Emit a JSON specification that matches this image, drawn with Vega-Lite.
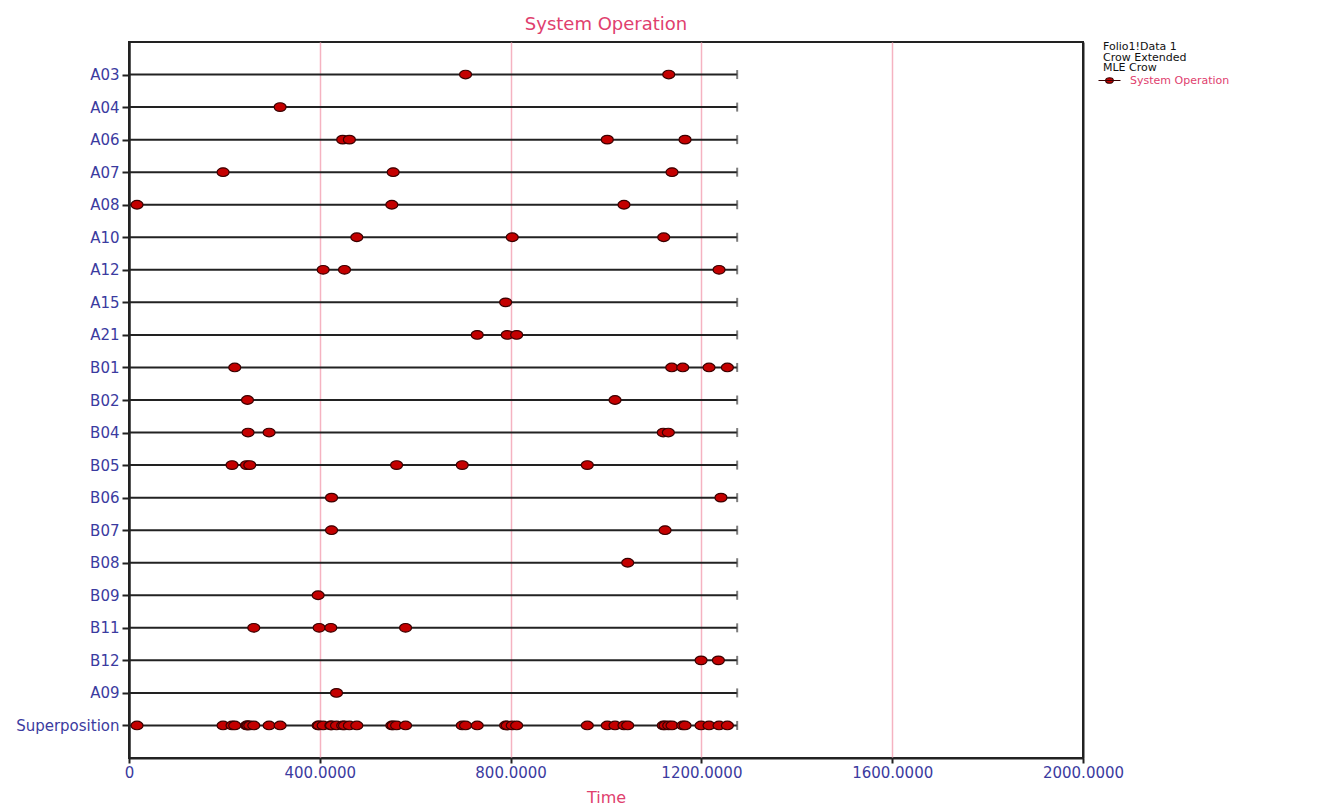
{
  "$schema": "https://vega.github.io/schema/vega-lite/v6.json",
  "width": 954,
  "height": 716,
  "autosize": {"type": "none"},
  "padding": {"left": 129, "top": 42, "right": 246, "bottom": 50},
  "background": "white",
  "title": {"text": "System Operation", "color": "#e0406e", "fontSize": 18, "font": "DejaVu Sans", "fontWeight": "normal", "anchor": "middle", "offset": 7},
  "config": {"view": {"stroke": "#222", "strokeWidth": 2}, "font": "DejaVu Sans"},
  "datasets": {
    "rows": [
      {"task": "A03", "start": 0, "end": 1275},
      {"task": "A04", "start": 0, "end": 1275},
      {"task": "A06", "start": 0, "end": 1275},
      {"task": "A07", "start": 0, "end": 1275},
      {"task": "A08", "start": 0, "end": 1275},
      {"task": "A10", "start": 0, "end": 1275},
      {"task": "A12", "start": 0, "end": 1275},
      {"task": "A15", "start": 0, "end": 1275},
      {"task": "A21", "start": 0, "end": 1275},
      {"task": "B01", "start": 0, "end": 1275},
      {"task": "B02", "start": 0, "end": 1275},
      {"task": "B04", "start": 0, "end": 1275},
      {"task": "B05", "start": 0, "end": 1275},
      {"task": "B06", "start": 0, "end": 1275},
      {"task": "B07", "start": 0, "end": 1275},
      {"task": "B08", "start": 0, "end": 1275},
      {"task": "B09", "start": 0, "end": 1275},
      {"task": "B11", "start": 0, "end": 1275},
      {"task": "B12", "start": 0, "end": 1275},
      {"task": "A09", "start": 0, "end": 1275},
      {"task": "Superposition", "start": 0, "end": 1275}
    ],
    "events": [
      {"task": "A03", "time": 705.6, "series": "System Operation"},
      {"task": "A03", "time": 1131.5, "series": "System Operation"},
      {"task": "A04", "time": 316.8, "series": "System Operation"},
      {"task": "A06", "time": 448, "series": "System Operation"},
      {"task": "A06", "time": 462, "series": "System Operation"},
      {"task": "A06", "time": 1002.7, "series": "System Operation"},
      {"task": "A06", "time": 1165.7, "series": "System Operation"},
      {"task": "A07", "time": 197.2, "series": "System Operation"},
      {"task": "A07", "time": 553.8, "series": "System Operation"},
      {"task": "A07", "time": 1138.4, "series": "System Operation"},
      {"task": "A08", "time": 16.8, "series": "System Operation"},
      {"task": "A08", "time": 551, "series": "System Operation"},
      {"task": "A08", "time": 1037.7, "series": "System Operation"},
      {"task": "A10", "time": 477.6, "series": "System Operation"},
      {"task": "A10", "time": 803.4, "series": "System Operation"},
      {"task": "A10", "time": 1121, "series": "System Operation"},
      {"task": "A12", "time": 407, "series": "System Operation"},
      {"task": "A12", "time": 451.8, "series": "System Operation"},
      {"task": "A12", "time": 1237, "series": "System Operation"},
      {"task": "A15", "time": 789.6, "series": "System Operation"},
      {"task": "A21", "time": 730, "series": "System Operation"},
      {"task": "A21", "time": 793, "series": "System Operation"},
      {"task": "A21", "time": 812.7, "series": "System Operation"},
      {"task": "B01", "time": 221.7, "series": "System Operation"},
      {"task": "B01", "time": 1137.8, "series": "System Operation"},
      {"task": "B01", "time": 1160.9, "series": "System Operation"},
      {"task": "B01", "time": 1216, "series": "System Operation"},
      {"task": "B01", "time": 1254.5, "series": "System Operation"},
      {"task": "B02", "time": 248.4, "series": "System Operation"},
      {"task": "B02", "time": 1018.9, "series": "System Operation"},
      {"task": "B04", "time": 249.6, "series": "System Operation"},
      {"task": "B04", "time": 293.7, "series": "System Operation"},
      {"task": "B04", "time": 1120, "series": "System Operation"},
      {"task": "B04", "time": 1130.7, "series": "System Operation"},
      {"task": "B05", "time": 216, "series": "System Operation"},
      {"task": "B05", "time": 246.3, "series": "System Operation"},
      {"task": "B05", "time": 253.2, "series": "System Operation"},
      {"task": "B05", "time": 561, "series": "System Operation"},
      {"task": "B05", "time": 698.6, "series": "System Operation"},
      {"task": "B05", "time": 960.8, "series": "System Operation"},
      {"task": "B06", "time": 424.6, "series": "System Operation"},
      {"task": "B06", "time": 1241, "series": "System Operation"},
      {"task": "B07", "time": 424.6, "series": "System Operation"},
      {"task": "B07", "time": 1123.8, "series": "System Operation"},
      {"task": "B08", "time": 1045.5, "series": "System Operation"},
      {"task": "B09", "time": 396.5, "series": "System Operation"},
      {"task": "B11", "time": 261.6, "series": "System Operation"},
      {"task": "B11", "time": 398.6, "series": "System Operation"},
      {"task": "B11", "time": 423.1, "series": "System Operation"},
      {"task": "B11", "time": 579.8, "series": "System Operation"},
      {"task": "B12", "time": 1199.3, "series": "System Operation"},
      {"task": "B12", "time": 1235.6, "series": "System Operation"},
      {"task": "A09", "time": 435, "series": "System Operation"},
      {"task": "Superposition", "time": 16.8, "series": "System Operation"},
      {"task": "Superposition", "time": 197.2, "series": "System Operation"},
      {"task": "Superposition", "time": 216, "series": "System Operation"},
      {"task": "Superposition", "time": 221.7, "series": "System Operation"},
      {"task": "Superposition", "time": 246.3, "series": "System Operation"},
      {"task": "Superposition", "time": 248.4, "series": "System Operation"},
      {"task": "Superposition", "time": 249.6, "series": "System Operation"},
      {"task": "Superposition", "time": 253.2, "series": "System Operation"},
      {"task": "Superposition", "time": 261.6, "series": "System Operation"},
      {"task": "Superposition", "time": 293.7, "series": "System Operation"},
      {"task": "Superposition", "time": 316.8, "series": "System Operation"},
      {"task": "Superposition", "time": 396.5, "series": "System Operation"},
      {"task": "Superposition", "time": 398.6, "series": "System Operation"},
      {"task": "Superposition", "time": 407, "series": "System Operation"},
      {"task": "Superposition", "time": 423.1, "series": "System Operation"},
      {"task": "Superposition", "time": 424.6, "series": "System Operation"},
      {"task": "Superposition", "time": 435, "series": "System Operation"},
      {"task": "Superposition", "time": 448, "series": "System Operation"},
      {"task": "Superposition", "time": 451.8, "series": "System Operation"},
      {"task": "Superposition", "time": 462, "series": "System Operation"},
      {"task": "Superposition", "time": 477.6, "series": "System Operation"},
      {"task": "Superposition", "time": 551, "series": "System Operation"},
      {"task": "Superposition", "time": 553.8, "series": "System Operation"},
      {"task": "Superposition", "time": 561, "series": "System Operation"},
      {"task": "Superposition", "time": 579.8, "series": "System Operation"},
      {"task": "Superposition", "time": 698.6, "series": "System Operation"},
      {"task": "Superposition", "time": 705.6, "series": "System Operation"},
      {"task": "Superposition", "time": 730, "series": "System Operation"},
      {"task": "Superposition", "time": 789.6, "series": "System Operation"},
      {"task": "Superposition", "time": 793, "series": "System Operation"},
      {"task": "Superposition", "time": 803.4, "series": "System Operation"},
      {"task": "Superposition", "time": 812.7, "series": "System Operation"},
      {"task": "Superposition", "time": 960.8, "series": "System Operation"},
      {"task": "Superposition", "time": 1002.7, "series": "System Operation"},
      {"task": "Superposition", "time": 1018.9, "series": "System Operation"},
      {"task": "Superposition", "time": 1037.7, "series": "System Operation"},
      {"task": "Superposition", "time": 1045.5, "series": "System Operation"},
      {"task": "Superposition", "time": 1120, "series": "System Operation"},
      {"task": "Superposition", "time": 1123.8, "series": "System Operation"},
      {"task": "Superposition", "time": 1131.5, "series": "System Operation"},
      {"task": "Superposition", "time": 1138.4, "series": "System Operation"},
      {"task": "Superposition", "time": 1160.9, "series": "System Operation"},
      {"task": "Superposition", "time": 1165.7, "series": "System Operation"},
      {"task": "Superposition", "time": 1199.3, "series": "System Operation"},
      {"task": "Superposition", "time": 1216, "series": "System Operation"},
      {"task": "Superposition", "time": 1237, "series": "System Operation"},
      {"task": "Superposition", "time": 1254.5, "series": "System Operation"}
    ]
  },
  "layer": [
    {
      "data": {"name": "rows"},
      "mark": {"type": "rule", "color": "#222", "strokeWidth": 2},
      "encoding": {
        "y": {
          "field": "task", "type": "nominal",
          "scale": {"type": "point", "padding": 1, "domain": ["A03","A04","A06","A07","A08","A10","A12","A15","A21","B01","B02","B04","B05","B06","B07","B08","B09","B11","B12","A09","Superposition"]},
          "axis": {"title": null, "labelColor": "#3b3ba0", "labelFontSize": 15, "labelFont": "DejaVu Sans", "domainColor": "#222", "domainWidth": 2, "tickColor": "#222", "tickWidth": 2, "tickSize": 7, "labelPadding": 3, "grid": false}
        },
        "x": {
          "field": "start", "type": "quantitative",
          "scale": {"domain": [0, 2000], "nice": false, "zero": true},
          "axis": {"title": "Time", "titleColor": "#e0406e", "titleFontSize": 16, "titleFontWeight": "normal", "titleFont": "DejaVu Sans", "titlePadding": 9, "values": [0, 400, 800, 1200, 1600, 2000], "labelExpr": "datum.value == 0 ? '0' : format(datum.value, '.4f')", "labelColor": "#3b3ba0", "labelFontSize": 15, "labelFont": "DejaVu Sans", "labelPadding": 2, "domainColor": "#222", "domainWidth": 2, "tickColor": "#222", "tickWidth": 2, "tickSize": 5, "grid": true, "gridColor": {"condition": {"test": "datum.value == 0 || datum.value == 2000", "value": "#222"}, "value": "#f5b3c1"}, "gridWidth": {"condition": {"test": "datum.value == 0 || datum.value == 2000", "value": 2}, "value": 1.5}, "gridOpacity": 1, "labelFlush": false}
        },
        "x2": {"field": "end"}
      }
    },
    {
      "data": {"name": "rows"},
      "mark": {"type": "tick", "orient": "vertical", "color": "#444", "size": 9, "thickness": 2},
      "encoding": {
        "x": {"field": "end", "type": "quantitative"},
        "y": {"field": "task", "type": "nominal"}
      }
    },
    {
      "data": {"name": "events"},
      "mark": {"type": "point", "shape": "M -1 0 A 1 0.72 0 1 0 1 0 A 1 0.72 0 1 0 -1 0 Z", "size": 144, "filled": true, "stroke": "#3a0000", "strokeWidth": 1.2, "opacity": 1},
      "encoding": {
        "x": {"field": "time", "type": "quantitative"},
        "y": {"field": "task", "type": "nominal"},
        "color": {
          "field": "series", "type": "nominal",
          "scale": {"range": ["#c40000"]},
          "legend": {"orient": "none", "legendX": 974, "legendY": -1, "title": ["Folio1!Data 1", "Crow Extended", "MLE Crow"], "titleFont": "DejaVu Sans", "titleFontSize": 11, "titleFontWeight": "normal", "titleColor": "#111", "titleLineHeight": 10.5, "titlePadding": 1, "labelColor": "#e0406e", "labelFont": "DejaVu Sans", "labelFontSize": 11, "symbolType": "M -2 0 L 2 0 M -0.7 0 A 0.7 0.5 0 1 0 0.7 0 A 0.7 0.5 0 1 0 -0.7 0 Z", "symbolSize": 121, "symbolStrokeColor": "#3a0000", "symbolStrokeWidth": 1.2, "labelOffset": 14}
        }
      }
    }
  ]
}
